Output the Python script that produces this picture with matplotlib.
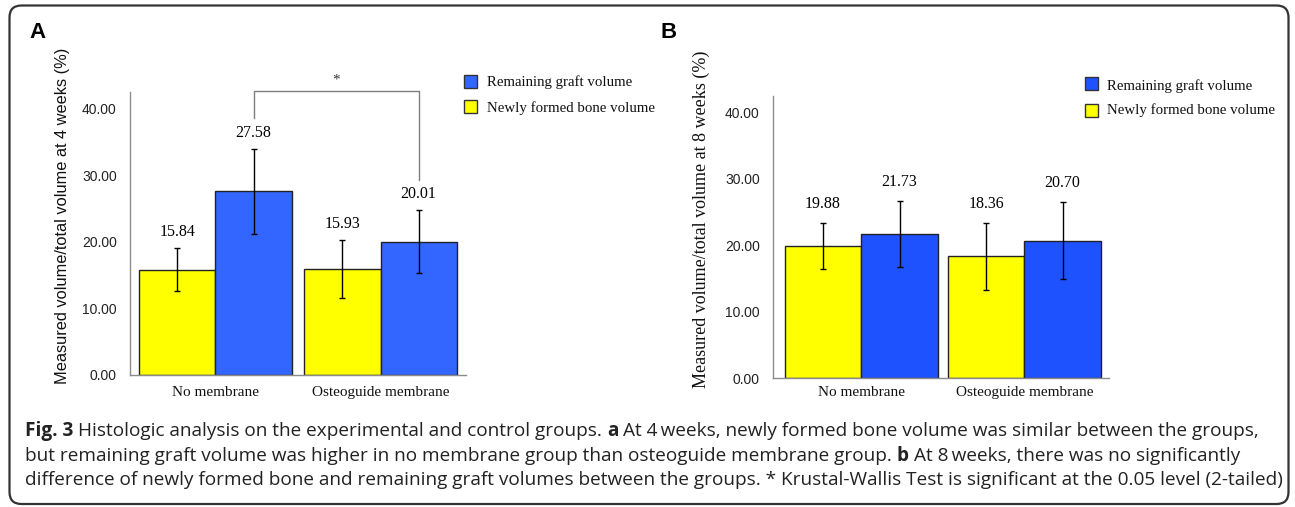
import matplotlib
matplotlib.use("Agg")
import matplotlib.pyplot as plt
from matplotlib.patches import FancyBboxPatch, Rectangle
import numpy as np

# data
groups = ["No membrane", "Osteoguide membrane"]
legend_labels = ["Remaining graft volume", "Newly formed bone volume"]
y_ticks = [0, 10, 20, 30, 40]

bone_4w = [15.84, 15.93]
bone_4w_err = [3.3, 4.35]
graft_4w = [27.58, 20.01]
graft_4w_err = [6.4, 4.75]

bone_8w = [19.88, 18.36]
bone_8w_err = [3.5, 5.05]
graft_8w = [21.73, 20.70]
graft_8w_err = [5.0, 5.8]

sig_pair = (0, 1)   # graft volume, no membrane vs osteoguide at 4 weeks
sig_mark = "*"

caption_lines = [
    [("Fig. 3", "bold"), ("Histologic analysis on the experimental and control groups.", "normal"),
     ("a", "bold"), ("At 4\u2009weeks, newly formed bone volume was similar between the groups,", "normal")],
    [("but remaining graft volume was higher in no membrane group than osteoguide membrane group.", "normal"),
     ("b", "bold"), ("At 8\u2009weeks, there was no significantly", "normal")],
    [("difference of newly formed bone and remaining graft volumes between the groups. * Krustal-Wallis Test "
      "is significant at the 0.05 level (2-tailed)", "normal")],
]

YELLOW = "#ffff00"
SERIF = "Liberation Serif"
SANS = "Liberation Sans"
CAPTION_FONT = ["Open Sans", "DejaVu Sans"]

W, H = 1295, 507
fig = plt.figure(figsize=(W / 100, H / 100), dpi=100)


def px_axes(left, right, bottom, top):
    return fig.add_axes([left / W, 1 - bottom / H, (right - left) / W, (bottom - top) / H])


def draw_panel(ax, bone, bone_err, graft, graft_err, blue, width, xlim, ylabel, ylabel_font,
               ylabel_size, ylabel_xy, val_offset, cat_pad):
    x = np.arange(len(groups))
    ekw = dict(ecolor="black", elinewidth=1, capsize=2.5, capthick=1)
    ax.bar(x - width / 2, bone, width, color=YELLOW, edgecolor="#222222", linewidth=1,
           yerr=bone_err, error_kw=ekw)
    ax.bar(x + width / 2, graft, width, color=blue, edgecolor="#222222", linewidth=1,
           yerr=graft_err, error_kw=ekw)

    for xs, vals, errs in [(x - width / 2, bone, bone_err), (x + width / 2, graft, graft_err)]:
        for xi, v, e in zip(xs, vals, errs):
            ax.annotate(f"{v:.2f}", (xi, v + e), xytext=(0, val_offset), textcoords="offset points",
                        ha="center", va="center", family=SERIF, fontsize=11.5)

    ax.set_xlim(*xlim)
    ax.set_ylim(0, 42.5)
    ax.set_yticks(y_ticks)
    ax.set_yticklabels([f"{t:.2f}" for t in y_ticks], family=SANS, fontsize=10, color="#222222")
    ax.set_xticks(x)
    ax.set_xticklabels(groups, family=SERIF, fontsize=11, color="#111111")
    ax.tick_params(axis="y", length=0, pad=9.5)
    ax.tick_params(axis="x", length=0, pad=cat_pad)
    for s in ["top", "right"]:
        ax.spines[s].set_visible(False)
    for s in ["left", "bottom"]:
        ax.spines[s].set_color("#8c8c8c")
        ax.spines[s].set_linewidth(1)

    ax.set_ylabel(ylabel, family=ylabel_font, fontsize=ylabel_size, color="#111111")
    ax.yaxis.label.set_va("center")
    ax.yaxis.set_label_coords(*ylabel_xy)
    return x


axA = px_axes(130, 466, 375, 92)
wA = 0.461
xA = draw_panel(axA, bone_4w, bone_4w_err, graft_4w, graft_4w_err, "#3366ff", wA, (-0.518, 1.518),
                "Measured volume/total volume at 4 weeks (%)", SANS, 11.8, (-0.200, 0.564), 11.5, 8)

# significance bracket over the graft bars
i, j = sig_pair
xl, xr = xA[i] + wA / 2, xA[j] + wA / 2
axA.plot([xl, xl, xr, xr], [38.6, 42.7, 42.7, 29.3], color="#7f7f7f", lw=1, clip_on=False)
axA.text((xl + xr) / 2, 44.3, sig_mark, ha="center", va="center", family=SERIF, fontsize=11,
         color="#333333")

axB = px_axes(773, 1109, 378, 96)
wB = 0.47
draw_panel(axB, bone_8w, bone_8w_err, graft_8w, graft_8w_err, "#1f52ff", wB, (-0.542, 1.52),
           "Measured volume/total volume at 8 weeks (%)", SERIF, 13, (-0.213, 0.564), 13.5, 6)

# overlay in pixel coordinates for the frame, legends, letters and caption
ov = fig.add_axes([0, 0, 1, 1])
ov.set_xlim(0, W)
ov.set_ylim(H, 0)
ov.axis("off")

ov.add_patch(FancyBboxPatch((9.5, 5.5), 1279, 498.5, boxstyle="round,pad=0,rounding_size=12",
                            fill=False, edgecolor="#333333", lw=1.6))

ov.text(38, 32, "A", ha="center", va="center", family=SANS, weight="bold", fontsize=16)
ov.text(669, 32, "B", ha="center", va="center", family=SANS, weight="bold", fontsize=16)

legend_sets = [
    (464, 487, [(81.5, 82), (106.5, 108)], ["#3366ff", YELLOW]),
    (1085, 1107, [(83.5, 86), (110, 110.5)], ["#1f52ff", YELLOW]),
]
for sq_x, tx, rows, colors in legend_sets:
    for (sq_y, ty), col, lab in zip(rows, colors, legend_labels):
        ov.add_patch(Rectangle((sq_x, sq_y - 6.5), 13, 13, facecolor=col, edgecolor="#333333", lw=1))
        ov.text(tx, ty, lab, ha="left", va="center", family=SERIF, fontsize=10.7, color="#111111")

# caption with bold run-ins
renderer = fig.canvas.get_renderer()


def text_width(s, **kw):
    t = ov.text(0, 0, s, **kw)
    w = t.get_window_extent(renderer).width
    t.remove()
    return w


def line_width(pieces, size):
    sp = text_width("a a", family=CAPTION_FONT, fontsize=size) - text_width("aa", family=CAPTION_FONT, fontsize=size)
    total = sum(text_width(s, family=CAPTION_FONT, fontsize=size, weight=wt) for s, wt in pieces)
    return total + sp * (len(pieces) - 1)


cap_size = 10 * 1237 / line_width(caption_lines[0], 10)
space = text_width("a a", family=CAPTION_FONT, fontsize=cap_size) - text_width("aa", family=CAPTION_FONT, fontsize=cap_size)

for pieces, base in zip(caption_lines, [436, 461, 485]):
    x = 25
    for s, wt in pieces:
        t = ov.text(x, base, s, ha="left", va="baseline", family=CAPTION_FONT, fontsize=cap_size,
                    weight=wt, color="#222222")
        x += t.get_window_extent(renderer).width + space

fig.savefig("out.png", dpi=100)
